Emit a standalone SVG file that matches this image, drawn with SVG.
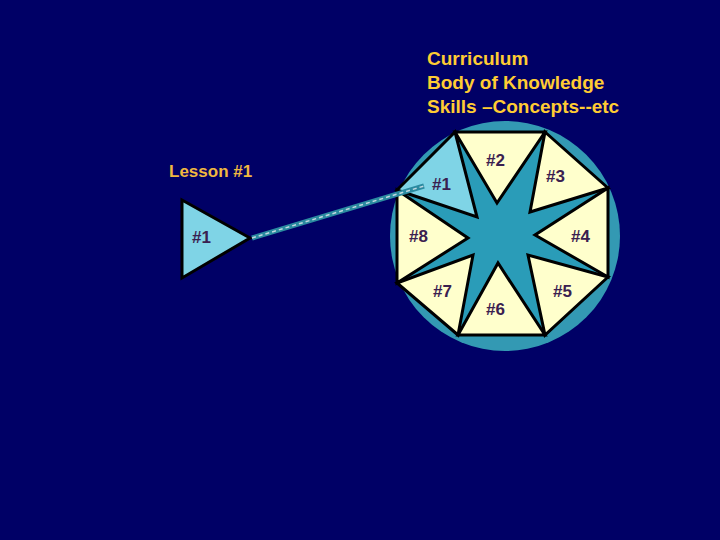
<svg xmlns="http://www.w3.org/2000/svg" width="720" height="540" viewBox="0 0 720 540">
<style>
.t{font-family:"Liberation Sans",Arial,sans-serif;font-weight:bold;font-size:17px;fill:#3a2050}
.h{font-family:"Liberation Sans",Arial,sans-serif;font-weight:bold;font-size:19px;fill:#ffcc33}
.s{stroke:#000;stroke-width:3;stroke-linejoin:miter}
.y{fill:#ffffcc}
.c{fill:#7fd4e6}
</style>
<rect width="720" height="540" fill="#000066"/>
<g id="title"><text class="h" x="427" y="65">Curriculum</text>
<text class="h" x="427" y="89">Body of Knowledge</text>
<text class="h" x="427" y="113">Skills –Concepts--etc</text></g>
<g id="lesson"><text x="169" y="177" font-family="Liberation Sans,Arial,sans-serif" font-weight="bold" font-size="17" fill="#f0b840">Lesson #1</text>
<polygon class="s c" points="182,200 182,278 250,238"/><text class="t" x="192" y="243">#1</text></g>
<g id="wheel">
<circle cx="505" cy="236" r="115" fill="#3399b3"/>
<polygon points="455,132 545,132 608,188 608,277 545,335 458,335 397,283 397,190" fill="#2a9cb8"/>
<g id="t1"><polygon class="s c" points="397,190 455,132 477,217"/><text class="t" x="432" y="190">#1</text></g>
<g id="t2"><polygon class="s y" points="455,132 545,132 497,203"/><text class="t" x="486" y="166">#2</text></g>
<g id="t3"><polygon class="s y" points="545,132 608,188 530,212"/><text class="t" x="546" y="182">#3</text></g>
<g id="t4"><polygon class="s y" points="608,188 608,277 535,235"/><text class="t" x="571" y="242">#4</text></g>
<g id="t5"><polygon class="s y" points="608,277 545,335 528,255"/><text class="t" x="553" y="297">#5</text></g>
<g id="t6"><polygon class="s y" points="545,335 458,335 498,263"/><text class="t" x="486" y="315">#6</text></g>
<g id="t7"><polygon class="s y" points="458,335 397,283 473,255"/><text class="t" x="433" y="297">#7</text></g>
<g id="t8"><polygon class="s y" points="397,283 397,190 468,238"/><text class="t" x="409" y="242">#8</text></g>
</g>
<g id="connectors">
<line x1="252" y1="238" x2="424" y2="186" stroke="#2a8aa0" stroke-width="5"/>
<line x1="252" y1="238" x2="424" y2="186" stroke="#c0d8e0" stroke-width="1.5" stroke-dasharray="4 3"/>
</g>
</svg>
